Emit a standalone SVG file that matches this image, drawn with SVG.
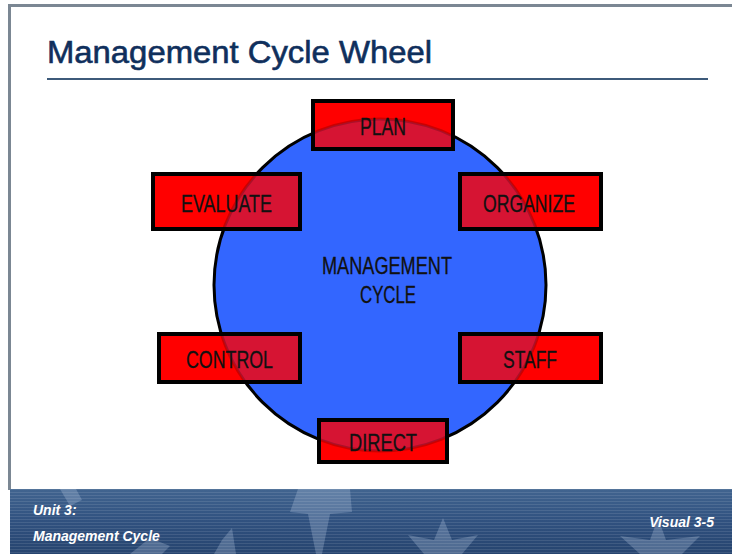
<svg xmlns="http://www.w3.org/2000/svg" width="732" height="554" viewBox="0 0 732 554">
  <style>
    .title { font-family: "Liberation Sans", Arial, sans-serif; font-size: 31px; fill: #0f2f5c; stroke: #0f2f5c; stroke-width: 0.6; }
    .box { fill: #ff0000; stroke: #000000; stroke-width: 4; }
    .lbl { font-family: "Liberation Sans Narrow", "Liberation Sans", Arial, sans-serif; font-size: 24px; fill: #111111; stroke: #111111; stroke-width: 0.3; text-anchor: middle; }
    .foot { font-family: "Liberation Sans", Arial, sans-serif; font-size: 14px; font-weight: bold; font-style: italic; fill: #ffffff; }
  </style>
  <defs>
    <linearGradient id="band" x1="0" y1="0" x2="0" y2="1">
      <stop offset="0" stop-color="#41648f"/>
      <stop offset="0.5" stop-color="#30517f"/>
      <stop offset="1" stop-color="#26446f"/>
    </linearGradient>
    <pattern id="stripes" width="4" height="3" patternUnits="userSpaceOnUse">
      <rect width="4" height="1" fill="#ffffff" fill-opacity="0.1"/>
    </pattern>
    <!-- interiors of the six boxes, where the wheel shows through -->
    <clipPath id="boxInner">
      <rect x="315" y="103" width="136" height="44"/>
      <rect x="155" y="176" width="143" height="51"/>
      <rect x="462" y="176" width="137" height="51"/>
      <rect x="161" y="336" width="137" height="44"/>
      <rect x="462" y="336" width="137" height="44"/>
      <rect x="321" y="422" width="124" height="38"/>
    </clipPath>
  </defs>

  <!-- page -->
  <rect x="0" y="0" width="732" height="554" fill="#ffffff"/>
  <rect x="8" y="4" width="724" height="3" fill="#7b8793"/>
  <rect x="8" y="4" width="3" height="486" fill="#7b8793"/>

  <!-- heading -->
  <text class="title" x="47" y="63" textLength="385" lengthAdjust="spacingAndGlyphs">Management Cycle Wheel</text>
  <rect x="47" y="78" width="661" height="2" fill="#3d5a7a"/>

  <!-- wheel -->
  <g id="wheel">
    <circle cx="380" cy="285" r="166" fill="#3366ff" stroke="#000000" stroke-width="3"/>
    <text class="lbl" x="387" y="274" textLength="130" lengthAdjust="spacingAndGlyphs">MANAGEMENT</text>
    <text class="lbl" x="388" y="303" textLength="56" lengthAdjust="spacingAndGlyphs">CYCLE</text>
  </g>

  <!-- stages -->
  <g id="plan">
    <rect class="box" x="313" y="101" width="140" height="48"/>
  </g>
  <g id="evaluate">
    <rect class="box" x="153" y="174" width="147" height="55"/>
  </g>
  <g id="organize">
    <rect class="box" x="460" y="174" width="141" height="55"/>
  </g>
  <g id="control">
    <rect class="box" x="159" y="334" width="141" height="48"/>
  </g>
  <g id="staff">
    <rect class="box" x="460" y="334" width="141" height="48"/>
  </g>
  <g id="direct">
    <rect class="box" x="319" y="420" width="128" height="42"/>
  </g>

  <!-- wheel tint seen through the boxes -->
  <circle cx="380" cy="285" r="166" fill="#3366ff" fill-opacity="0.2" stroke="#000000" stroke-opacity="0.2" stroke-width="3" clip-path="url(#boxInner)"/>

  <g id="stage-labels">
    <text class="lbl" x="383" y="135" textLength="46" lengthAdjust="spacingAndGlyphs">PLAN</text>
    <text class="lbl" x="226.5" y="212" textLength="91" lengthAdjust="spacingAndGlyphs">EVALUATE</text>
    <text class="lbl" x="529" y="212" textLength="92" lengthAdjust="spacingAndGlyphs">ORGANIZE</text>
    <text class="lbl" x="229.5" y="368" textLength="87" lengthAdjust="spacingAndGlyphs">CONTROL</text>
    <text class="lbl" x="530" y="368" textLength="54" lengthAdjust="spacingAndGlyphs">STAFF</text>
    <text class="lbl" x="383" y="451" textLength="68" lengthAdjust="spacingAndGlyphs">DIRECT</text>
  </g>

  <!-- footer band -->
  <g id="footer">
    <rect x="10" y="489" width="722" height="65" fill="url(#band)"/>
    <g fill="#b9cbe6" fill-opacity="0.28">
      <path d="M298 489 L350 489 L352 512 L330 514 L322 554 L316 554 L308 514 L290 512 Z"/>
      <path d="M443 518 L452 540 L478 535 L462 554 L424 554 L408 535 L434 540 Z"/>
      <path d="M658 518 L666 540 L700 536 L682 554 L640 554 L620 536 L650 540 Z"/>
      <path d="M60 489 L76 489 L82 500 L70 506 Z"/>
      <path d="M130 554 L150 538 L170 546 L162 554 Z"/>
      <path d="M222 540 L232 528 L236 554 L214 554 Z"/>
    </g>
    <rect x="10" y="489" width="722" height="65" fill="url(#stripes)"/>
    <text class="foot" x="33" y="515">Unit 3:</text>
    <text class="foot" x="33" y="541">Management Cycle</text>
    <text class="foot" x="714" y="527" text-anchor="end">Visual 3-5</text>
  </g>
</svg>
